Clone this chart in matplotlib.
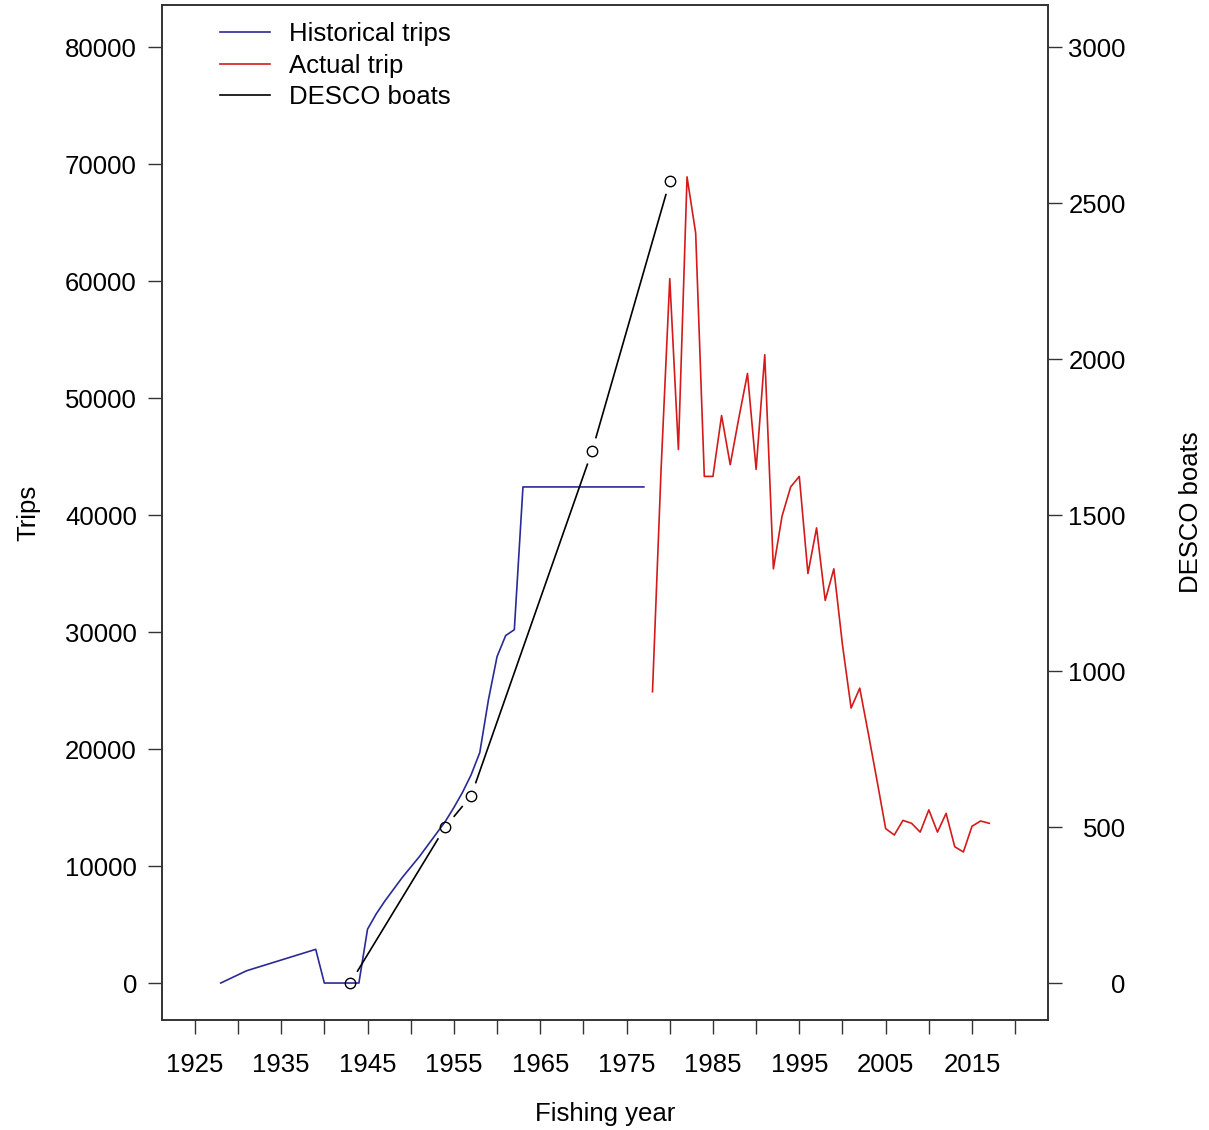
import matplotlib
matplotlib.use("Agg")
import matplotlib.pyplot as plt
from matplotlib.lines import Line2D
import numpy as np

plt.rcParams['font.family'] = ['Liberation Sans', 'DejaVu Sans']

# historical trips (blue), vertices
hist_years = [1928, 1931, 1939, 1940, 1944, 1945, 1946, 1947, 1948, 1949, 1950,
              1951, 1952, 1953, 1954, 1955, 1956, 1957, 1958, 1959, 1960, 1961,
              1962, 1963, 1977]
hist_trips = [0, 1050, 2880, 0, 0, 4600, 5900, 7000, 8000, 9000, 9900,
              10800, 11800, 12800, 13800, 15000, 16300, 17800, 19700, 24200, 27900, 29700,
              30200, 42400, 42400]

# actual trips (red)
act_years = list(range(1978, 2018))
act_trips = [24900, 44000, 60200, 45600, 68900, 64100, 43300, 43300, 48500, 44300,
             48300, 52100, 43900, 53700, 35400, 39900, 42400, 43300, 35000, 38900,
             32700, 35400, 28900, 23500, 25200, 21300, 17300, 13200, 12650, 13900,
             13650, 12900, 14800, 12900, 14500, 11650, 11200, 13400, 13850, 13650]

# DESCO boats (right axis)
desco_years = [1943, 1954, 1957, 1971, 1980]
desco_boats = [0, 500, 600, 1705, 2570]

W, H = 1209, 1130
fig = plt.figure(figsize=(W / 100, H / 100), dpi=100)
ax = fig.add_axes([162 / W, 1 - 1020 / H, 886 / W, 1015 / H])

ax.plot(hist_years, hist_trips, color='#2a2a96', lw=1.2)
ax.plot(act_years, act_trips, color='#d41a1a', lw=1.2)

ax.set_xlim(1921.2, 2023.8)
ax.set_ylim(-3160, 83590)
ax.set_xticks(np.arange(1925, 2021, 5))
ax.set_xticklabels([str(y) if (y - 1925) % 10 == 0 else '' for y in range(1925, 2021, 5)])
ax.set_yticks(np.arange(0, 80001, 10000))
ax.set_xlabel('Fishing year', fontsize=18.5, labelpad=18)
ax.set_ylabel('Trips', fontsize=18.5, labelpad=18)

ax2 = ax.twinx()
ax2.set_ylim(-3160 * 3000 / 80000, 83590 * 3000 / 80000)
ax2.set_yticks(np.arange(0, 3001, 500))

for a in (ax, ax2):
    a.tick_params(length=10, width=1.0, color='#333333', labelsize=18.5, pad=10)
    for s in a.spines.values():
        s.set_color('#333333')
        s.set_linewidth(1.2)
ax.tick_params(axis='x', pad=14)
ax.tick_params(axis='y', pad=8)
# right-hand labels are right-justified in the original
ax2.tick_params(axis='y', pad=46)
for t in ax2.get_yticklabels():
    t.set_horizontalalignment('right')
ax2.set_ylabel('DESCO boats', fontsize=18.5, labelpad=38)

# DESCO line drawn R "type b" style: segments stop short of the points
gap = 14
pts = ax2.transData.transform(np.column_stack([desco_years, desco_boats]))
inv = ax2.transData.inverted()
for p0, p1 in zip(pts[:-1], pts[1:]):
    d = p1 - p0
    L = np.hypot(d[0], d[1])
    if L > 2 * gap:
        seg = inv.transform([p0 + d / L * gap, p1 - d / L * gap])
        ax2.plot(seg[:, 0], seg[:, 1], color='black', lw=1.2)
ax2.plot(desco_years, desco_boats, 'o', ms=7.5, mfc='none', mec='black', mew=1.0)

handles = [Line2D([], [], color='#2a2a96', lw=1.2),
           Line2D([], [], color='#d41a1a', lw=1.2),
           Line2D([], [], color='black', lw=1.2)]
ax2.legend(handles, ['Historical trips', 'Actual trip', 'DESCO boats'],
           loc='upper left', bbox_to_anchor=((220 - 162) / 886, 1 - 17 / 1015),
           frameon=False, fontsize=18.5, handlelength=1.95, handletextpad=0.75,
           labelspacing=0.3, borderpad=0, borderaxespad=0)

fig.savefig('out.png', dpi=100)
